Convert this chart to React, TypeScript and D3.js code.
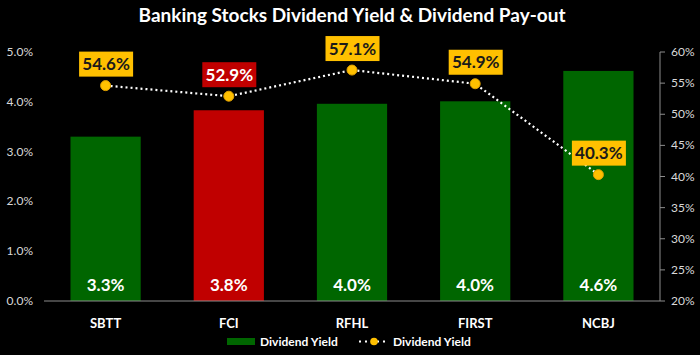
import React from "react";
import * as d3 from "d3";

const categories = ["SBTT", "FCI", "RFHL", "FIRST", "NCBJ"];
const yieldValues = [3.3, 3.83, 3.96, 4.01, 4.62];
const yieldLabels = ["3.3%", "3.8%", "4.0%", "4.0%", "4.6%"];
const payoutValues = [54.6, 52.9, 57.1, 54.9, 40.3];
const highlight = ["FCI"];
const leftTicks = [0, 1, 2, 3, 4, 5];
const rightTicks = [20, 25, 30, 35, 40, 45, 50, 55, 60];

const W = 700, H = 355;
const left = 44, right = 660, top = 52, bottom = 301;
const FONT = "Lato, 'Open Sans', sans-serif";
const GREEN = "#006600";
const RED = "#C00000";
const GOLD = "#FFC000";

export default function App() {
  const x = d3.scaleBand<string>().domain(categories).range([left, right]).paddingInner(0.43).paddingOuter(0.215);
  const yL = d3.scaleLinear().domain([0, 5]).range([bottom, top]);
  const yR = d3.scaleLinear().domain([20, 60]).range([bottom, top]);
  const cx = (c: string) => (x(c) as number) + x.bandwidth() / 2;
  const line = d3.line<number>().x((_, i) => cx(categories[i])).y((d) => yR(d));

  return (
    <svg width={W} height={H} style={{ position: "absolute", left: 0, top: 0, background: "#000" }}>
      <rect x={0} y={0} width={W} height={H} fill="#000" />
      <text x={352} y={22} textAnchor="middle" fill="#fff" fontFamily={FONT} fontWeight={700} fontSize={19}>
        Banking Stocks Dividend Yield &amp; Dividend Pay-out
      </text>
      {leftTicks.map((t) => (
        <text key={t} x={33} y={yL(t) + 4} textAnchor="end" fill="#d9d9d9" fontFamily={FONT} fontSize={12}>
          {t.toFixed(1)}%
        </text>
      ))}
      {rightTicks.map((t) => (
        <g key={t}>
          <line x1={right} x2={right + 5} y1={yR(t)} y2={yR(t)} stroke="#8c8c8c" />
          <text x={671} y={yR(t) + 4} fill="#d9d9d9" fontFamily={FONT} fontSize={12}>
            {t}%
          </text>
        </g>
      ))}
      <line x1={right} x2={right} y1={top} y2={bottom} stroke="#8c8c8c" />
      {categories.map((c, i) => (
        <g key={c}>
          <rect
            x={x(c)}
            y={yL(yieldValues[i])}
            width={x.bandwidth()}
            height={bottom - yL(yieldValues[i])}
            fill={highlight.includes(c) ? RED : GREEN}
          />
          <text x={cx(c)} y={291} textAnchor="middle" fill="#fff" fontFamily={FONT} fontWeight={700} fontSize={17}>
            {yieldLabels[i]}
          </text>
          <text x={cx(c)} y={328} textAnchor="middle" fill="#fff" fontFamily={FONT} fontWeight={700} fontSize={13}>
            {c}
          </text>
        </g>
      ))}
      <line x1={left} x2={right} y1={bottom} y2={bottom} stroke="#8c8c8c" />
      <path d={line(payoutValues) || ""} fill="none" stroke="#fff" strokeWidth={2.2} strokeDasharray="2,3" />
      {categories.map((c, i) => {
        const px = cx(c), py = yR(payoutValues[i]);
        const hl = highlight.includes(c);
        const bw = 54, bh = 25;
        return (
          <g key={c + "p"}>
            <circle cx={px} cy={py} r={5} fill={GOLD} stroke="#e0a000" strokeWidth={1} />
            <rect x={px - bw / 2 + 0.5} y={py - 34} width={bw} height={bh} fill={hl ? RED : GOLD} />
            <text x={px + 0.5} y={py - 15.5} textAnchor="middle" fill={hl ? "#fff" : "#1a1a1a"} fontFamily={FONT} fontWeight={700} fontSize={17}>
              {payoutValues[i].toFixed(1)}%
            </text>
          </g>
        );
      })}
      <g>
        <rect x={227} y={338} width={28} height={7} fill={GREEN} />
        <text x={260} y={346} fill="#fff" fontFamily={FONT} fontWeight={700} fontSize={12}>Dividend Yield</text>
        <line x1={359} x2={388} y1={341.5} y2={341.5} stroke="#fff" strokeWidth={2} strokeDasharray="2,4" />
        <circle cx={374} cy={341.5} r={3.8} fill={GOLD} />
        <text x={393} y={346} fill="#fff" fontFamily={FONT} fontWeight={700} fontSize={12}>Dividend Yield</text>
      </g>
    </svg>
  );
}
